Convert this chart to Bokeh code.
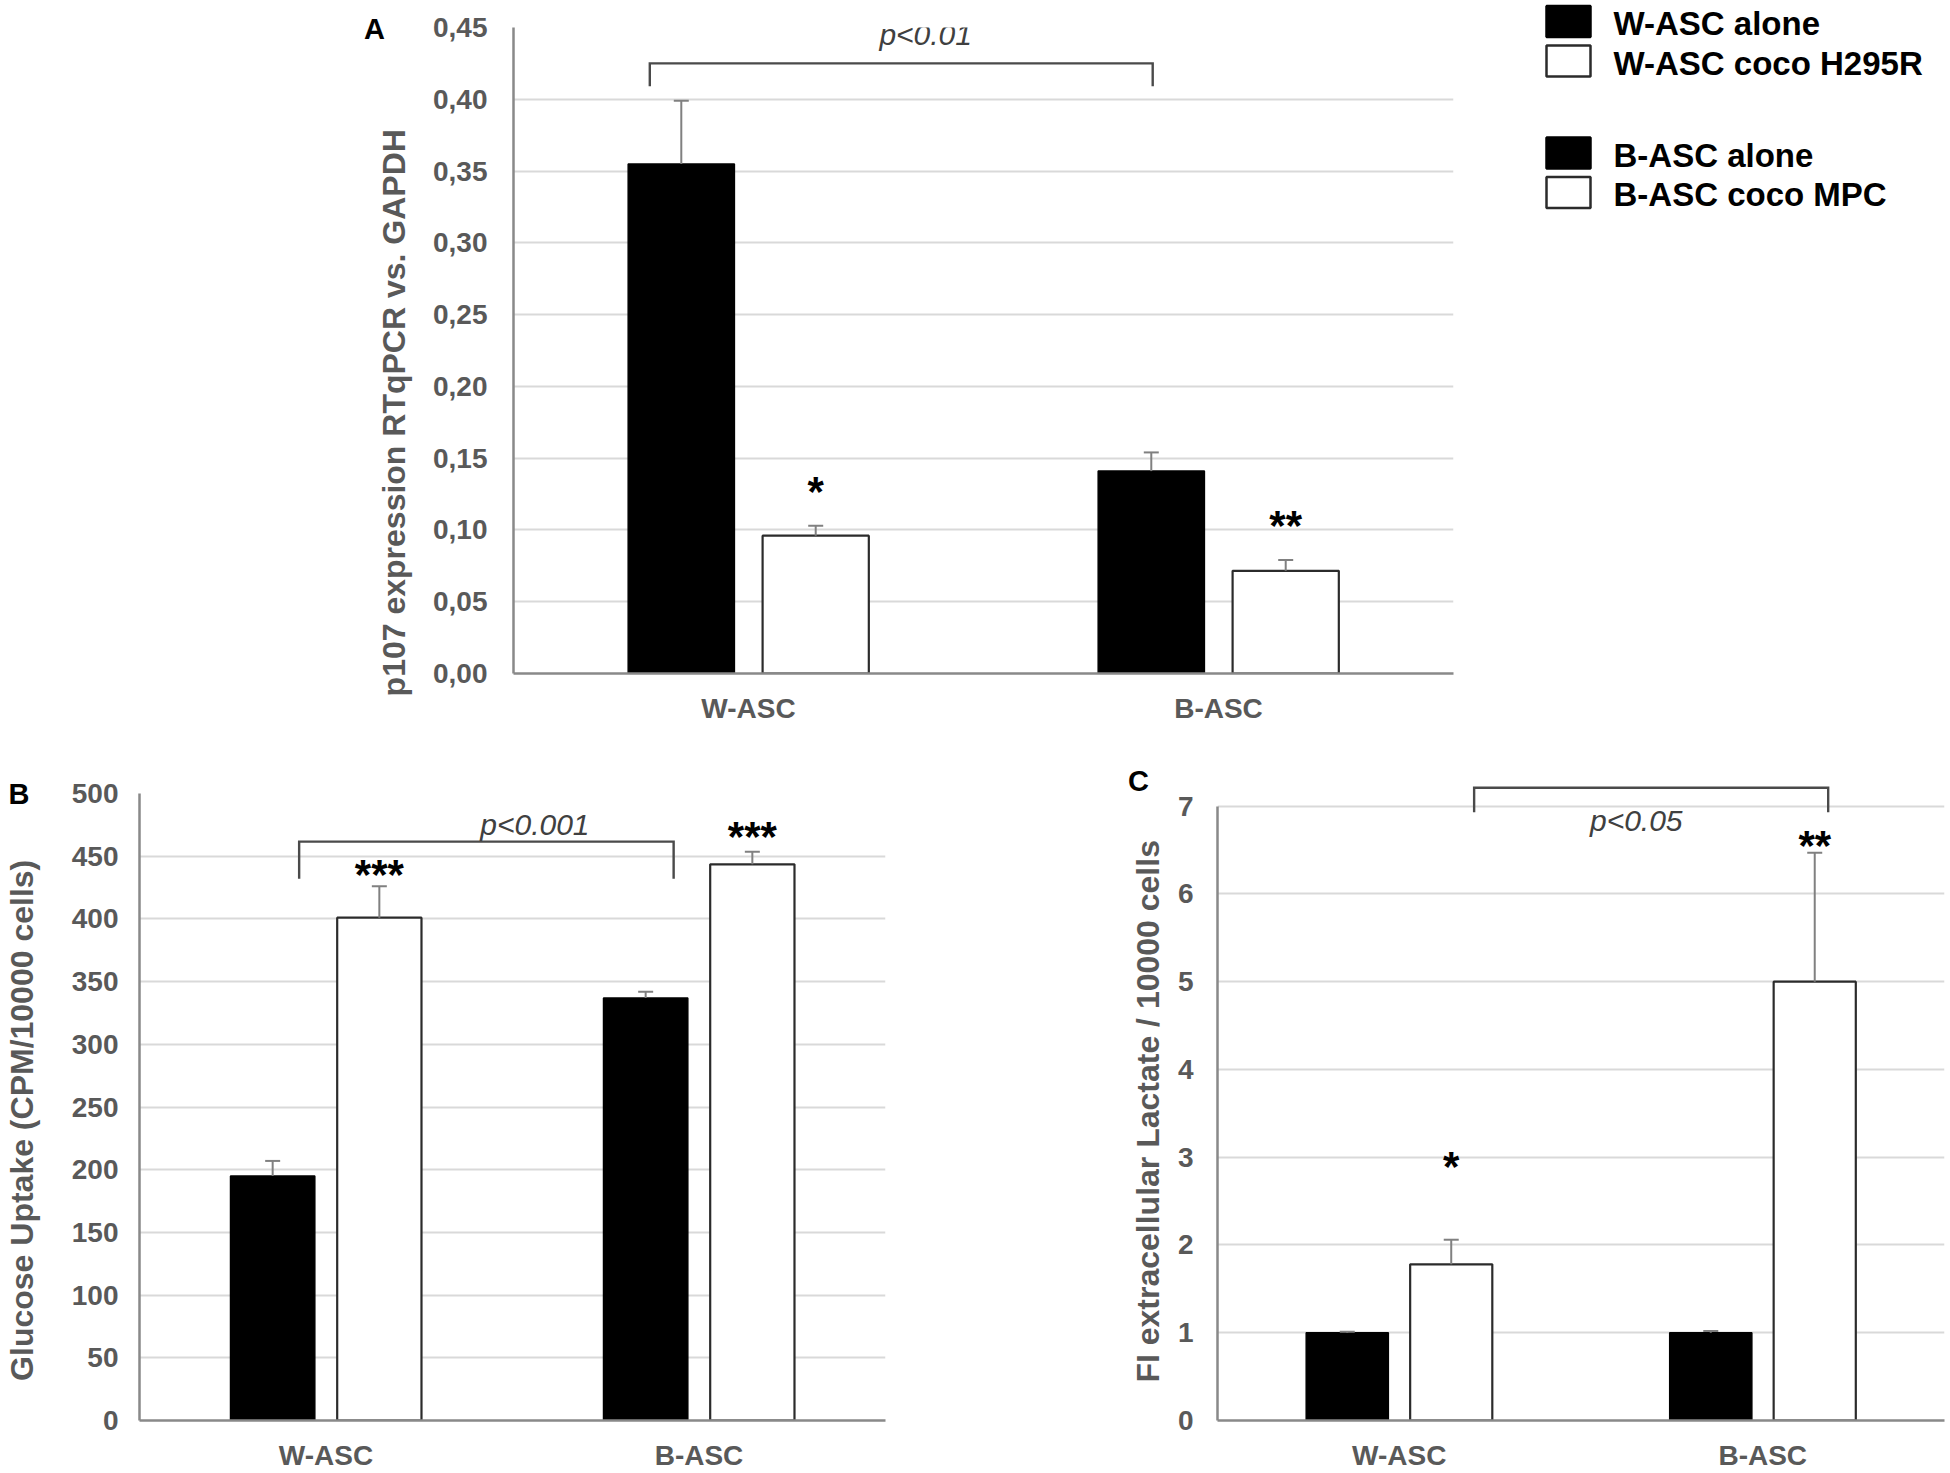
from bokeh.plotting import figure
from bokeh.models import (Range1d, FixedTicker, CustomJSTickFormatter, Whisker, TeeHead,
                          ColumnDataSource)
from bokeh.transform import dodge
from bokeh.layouts import column, row
from bokeh.embed import file_html
from bokeh.resources import INLINE
from bokeh.core.properties import value

FONT = "Liberation Sans"
TXT_GRAY = "#595959"
AXIS_GRAY = "#898989"
GRID_GRAY = "#d9d9d9"
ERR_GRAY = "#808080"
NB = "\u00a0"

# ---------------- data ----------------
groups = ["W-ASC", "B-ASC"]

legend_labels = ["W-ASC alone", "W-ASC coco H295R", "B-ASC alone", "B-ASC coco MPC"]
legend_fills = ["black", "white", "black", "white"]

# Panel A : p107 expression
a_alone = [0.355, 0.141]
a_alone_err = [0.044, 0.013]
a_coco = [0.096, 0.0715]
a_coco_err = [0.007, 0.0075]
a_ticks = [0.00, 0.05, 0.10, 0.15, 0.20, 0.25, 0.30, 0.35, 0.40, 0.45]
a_stars = ["*", "**"]
a_star_y = [0.134, 0.110]
a_bracket = {"x0": 0.29, "x1": 1.36, "y": 0.425, "drop": 0.409,
             "text": "p<0.01", "tx": 0.877, "ty": 0.445}

# Panel B : glucose uptake
b_alone = [195, 337]
b_alone_err = [12, 5]
b_coco = [401, 443.5]
b_coco_err = [25, 10]
b_ticks = [0, 50, 100, 150, 200, 250, 300, 350, 400, 450, 500]
b_stars = ["***", "***"]
b_star_y = [443, 474]
b_bracket = {"x0": 0.428, "x1": 1.432, "y": 461.6, "drop": 432,
             "text": "p<0.001", "tx": 1.06, "ty": 475}

# Panel C : extracellular lactate
c_alone = [1.0, 1.0]
c_alone_err = [0.01, 0.02]
c_coco = [1.78, 5.0]
c_coco_err = [0.28, 1.47]
c_ticks = [0, 1, 2, 3, 4, 5, 6, 7]
c_stars = ["*", "**"]
c_star_y = [3.01, 6.67]
c_bracket = {"x0": 0.706, "x1": 1.68, "y": 7.21, "drop": 6.93,
             "text": "p<0.05", "tx": 1.152, "ty": 6.84}

# ---------------- layout ----------------
OFF = 0.143
BW = 0.226


def panel(canvas, frame, y_end, ticks, fmt_code, tick_standoff, label_standoff,
          alone, alone_err, coco, coco_err, stars, star_y, bracket,
          letter, letter_offset, letter_standoff, ylabel):
    cx0, cy0, cx1, cy1 = canvas
    fl, ft, fr, fb = frame
    p = figure(width=cx1 - cx0, height=cy1 - cy0,
               x_range=Range1d(0, len(groups)), y_range=Range1d(0, y_end),
               output_backend="svg", toolbar_location=None,
               min_border_left=fl - cx0, min_border_right=cx1 - fr,
               min_border_top=ft - cy0, min_border_bottom=cy1 - fb)
    p.frame_align = False
    p.outline_line_color = None

    xs = [i + 0.5 for i in range(len(groups))]
    src = ColumnDataSource(dict(
        x=xs, alone=alone, coco=coco,
        alone_top=[v + e for v, e in zip(alone, alone_err)],
        coco_top=[v + e for v, e in zip(coco, coco_err)],
        stars=stars, star_y=star_y))

    p.vbar(x=dodge("x", -OFF), width=BW, top="alone", bottom=0, source=src,
           fill_color="black", line_color="black", line_width=1.5)
    p.vbar(x=dodge("x", OFF), width=BW, top="coco", bottom=0, source=src,
           fill_color="white", line_color="#2b2b2b", line_width=2.2)

    for off, topf in ((-OFF, "alone"), (OFF, "coco")):
        p.add_layout(Whisker(source=src, base=dodge("x", off), lower=topf, upper=topf + "_top",
                             line_color=ERR_GRAY, line_width=2,
                             upper_head=TeeHead(size=15, line_color=ERR_GRAY, line_width=2),
                             lower_head=None, level="overlay"))

    p.text(x=dodge("x", OFF), y="star_y", text="stars", source=src,
           text_font=value(FONT), text_font_style="bold", text_font_size="42px",
           text_color="black", text_align="center", text_baseline="middle",
           y_offset=10)

    b = bracket
    p.line(x=[b["x0"], b["x0"], b["x1"], b["x1"]],
           y=[b["drop"], b["y"], b["y"], b["drop"]],
           line_color="#4a4a4a", line_width=2.4, line_join="miter")
    p.text(x=[b["tx"]], y=[b["ty"]], text=[b["text"]],
           text_font=value(FONT), text_font_style="italic", text_font_size="30px",
           text_color="#404040", text_align="center", text_baseline="middle")

    # axes
    p.xaxis.ticker = FixedTicker(ticks=xs)
    p.xaxis.formatter = CustomJSTickFormatter(args=dict(names=groups),
                                              code="return names[Math.round(tick - 0.5)];")
    p.yaxis.ticker = FixedTicker(ticks=ticks)
    p.yaxis.formatter = CustomJSTickFormatter(code=fmt_code)
    p.yaxis.bounds = (ticks[0], ticks[-1])
    p.axis.axis_line_color = AXIS_GRAY
    p.axis.axis_line_width = 2.5
    p.axis.major_tick_line_color = None
    p.axis.minor_tick_line_color = None
    p.axis.major_label_text_font = FONT
    p.axis.major_label_text_font_style = "bold"
    p.axis.major_label_text_font_size = "28px"
    p.axis.major_label_text_color = TXT_GRAY
    p.yaxis.major_label_standoff = tick_standoff
    p.xaxis.major_label_standoff = 13

    p.yaxis.axis_label = ylabel
    p.yaxis.axis_label_text_font = FONT
    p.yaxis.axis_label_text_font_style = "bold"
    p.yaxis.axis_label_text_font_size = "32px"
    p.yaxis.axis_label_text_color = TXT_GRAY
    p.yaxis.axis_label_standoff = label_standoff

    p.xgrid.visible = False
    p.ygrid.grid_line_color = GRID_GRAY
    p.ygrid.grid_line_width = 2.2

    p.title.text = letter
    p.title.align = "left"
    p.title.offset = letter_offset
    p.title.standoff = letter_standoff
    p.title.text_font = FONT
    p.title.text_font_style = "bold"
    p.title.text_font_size = "29px"
    p.title.text_color = "black"
    return p


fmt_comma = "return tick.toFixed(2).replace('.', ',');"
fmt_int = "return tick.toFixed(0);"

pa = panel((0, 0, 1480, 740), (513, 27, 1453, 673), 0.45, a_ticks, fmt_comma, 20, 18,
           a_alone, a_alone_err, a_coco, a_coco_err, a_stars, a_star_y, a_bracket,
           "A", -149.5, -35, "p107 expression RTqPCR vs. GAPDH" + NB * 14)

pb = panel((0, 740, 1000, 1473), (138, 793, 885, 1420), 500, b_ticks, fmt_int, 15, 29,
           b_alone, b_alone_err, b_coco, b_coco_err, b_stars, b_star_y, b_bracket,
           "B", -131, -33, "Glucose Uptake (CPM/10000  cells)" + NB * 2)

pc = panel((1000, 740, 1950, 1473), (1217, 775, 1944, 1420), 7.35, c_ticks, fmt_int, 18, 9,
           c_alone, c_alone_err, c_coco, c_coco_err, c_stars, c_star_y, c_bracket,
           "C", -89.5, -43, "FI extracellular Lactate / 10000 cells" + NB * 3)

# legend panel (drawn in pixel-like coordinates of its own canvas)
leg_rows_y = [21, 60.5, 152.5, 192]
pl = figure(width=470, height=740, x_range=Range1d(1480, 1950), y_range=Range1d(740, 0),
            output_backend="svg", toolbar_location=None, min_border=0,
            x_axis_location=None, y_axis_location=None)
pl.frame_align = False
pl.outline_line_color = None
pl.grid.visible = False
lsrc = ColumnDataSource(dict(y=leg_rows_y, fill=legend_fills, label=legend_labels,
                             line=["black" if f == "black" else "#2b2b2b" for f in legend_fills]))
pl.rect(x=1568, y="y", width=44, height=31, source=lsrc, fill_color="fill",
        line_color="line", line_width=2.5)
pl.text(x=1613, y="y", text="label", source=lsrc, text_font=value(FONT),
        text_font_style="bold", text_font_size="33px", text_color="black",
        text_align="left", text_baseline="middle", y_offset=2)

layout = column(row(pa, pl), row(pb, pc))
open("out.html", "w").write(file_html(layout, INLINE))
